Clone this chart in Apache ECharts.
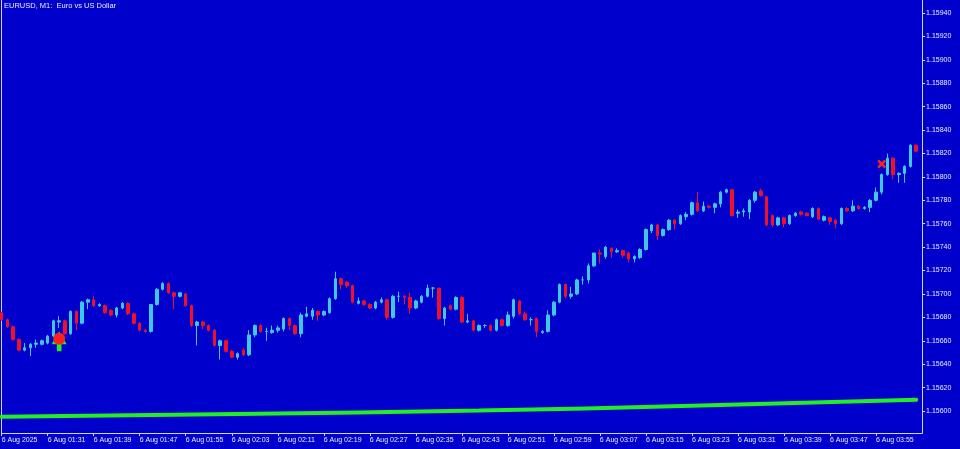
<!DOCTYPE html>
<html><head><meta charset="utf-8">
<script src="https://cdn.jsdelivr.net/npm/echarts@6/dist/echarts.min.js"></script>
<style>html,body{margin:0;padding:0;background:#0000cd;overflow:hidden}#c{width:960px;height:449px}</style>
</head><body><div id="c"></div>
<script>
// ---- data ----
const categories = [
"01:23","01:24","01:25","01:26","01:27","01:28","01:29","01:30","01:31","01:32","01:33","01:34","01:35","01:36","01:37","01:38","01:39","01:40","01:41","01:42","01:43","01:44","01:45","01:46","01:47","01:48","01:49","01:50","01:51","01:52","01:53","01:54","01:55","01:56","01:57","01:58","01:59",
"02:00","02:01","02:02","02:03","02:04","02:05","02:06","02:07","02:08","02:09","02:10","02:11","02:12","02:13","02:14","02:15","02:16","02:17","02:18","02:19","02:20","02:21","02:22","02:23","02:24","02:25","02:26","02:27","02:28","02:29","02:30","02:31","02:32","02:33","02:34","02:35","02:36","02:37","02:38","02:39","02:40","02:41","02:42","02:43","02:44","02:45","02:46","02:47","02:48","02:49","02:50","02:51","02:52","02:53","02:54","02:55","02:56","02:57","02:58","02:59",
"03:00","03:01","03:02","03:03","03:04","03:05","03:06","03:07","03:08","03:09","03:10","03:11","03:12","03:13","03:14","03:15","03:16","03:17","03:18","03:19","03:20","03:21","03:22","03:23","03:24","03:25","03:26","03:27","03:28","03:29","03:30","03:31","03:32","03:33","03:34","03:35","03:36","03:37","03:38","03:39","03:40","03:41","03:42","03:43","03:44","03:45","03:46","03:47","03:48","03:49","03:50","03:51","03:52","03:53","03:54","03:55","03:56","03:57","03:58","03:59",
"04:00","04:01","04:02"];

const opens = [
1.15684,1.15678,1.15672,1.15661,1.15652,1.15654,1.15657,1.15657,1.15658,1.15664,
1.15676,1.15677,1.15666,1.15685,1.15675,1.15693,1.15695,1.15690,1.15690,1.15686,
1.15682,1.15688,1.15692,1.15683,1.15675,1.15669,1.15668,1.15691,1.15704,1.15709,
1.15701,1.15698,1.15700,1.15690,1.15673,1.15676,1.15673,1.15669,1.15656,1.15660,
1.15651,1.15646,1.15652,1.15648,1.15665,1.15673,1.15668,1.15667,1.15669,1.15670,
1.15679,1.15673,1.15666,1.15681,1.15681,1.15685,1.15682,1.15684,1.15696,1.15713,
1.15710,1.15707,1.15692,1.15694,1.15691,1.15688,1.15693,1.15695,1.15680,1.15698,
1.15698,1.15697,1.15688,1.15693,1.15698,1.15705,1.15705,1.15679,1.15690,1.15687,
1.15697,1.15676,1.15677,1.15669,1.15673,1.15673,1.15669,1.15678,1.15673,1.15681,
1.15694,1.15683,1.15678,1.15679,1.15667,1.15668,1.15682,1.15693,1.15708,1.15698,
1.15700,1.15712,1.15712,1.15724,1.15735,1.15732,1.15739,1.15736,1.15737,1.15735,
1.15730,1.15731,1.15738,1.15754,1.15759,1.15750,1.15755,1.15763,1.15760,1.15766,
1.15768,1.15778,1.15771,1.15775,1.15774,1.15777,1.15787,1.15789,1.15769,1.15770,
1.15770,1.15780,1.15788,1.15783,1.15767,1.15759,1.15765,1.15760,1.15767,1.15770,
1.15769,1.15766,1.15773,1.15763,1.15765,1.15763,1.15760,1.15773,1.15771,1.15775,
1.15773,1.15774,1.15780,1.15787,1.15802,1.15816,1.15802,1.15803,1.15809,1.15827];

const highs = [
1.15685,1.15679,1.15673,1.15662,1.15658,1.15658,1.15661,1.15661,1.15665,1.15678,
1.15681,1.15678,1.15686,1.15686,1.15694,1.15696,1.15698,1.15692,1.15691,1.15687,
1.15689,1.15693,1.15693,1.15684,1.15676,1.15670,1.15691,1.15705,1.15710,1.15710,
1.15702,1.15701,1.15701,1.15691,1.15677,1.15677,1.15674,1.15670,1.15661,1.15661,
1.15652,1.15650,1.15654,1.15669,1.15674,1.15674,1.15671,1.15673,1.15673,1.15680,
1.15680,1.15674,1.15684,1.15689,1.15688,1.15686,1.15686,1.15697,1.15719,1.15714,
1.15711,1.15708,1.15697,1.15695,1.15692,1.15694,1.15697,1.15696,1.15699,1.15702,
1.15699,1.15701,1.15695,1.15699,1.15708,1.15706,1.15705,1.15689,1.15691,1.15698,
1.15698,1.15683,1.15678,1.15674,1.15674,1.15674,1.15679,1.15679,1.15685,1.15696,
1.15695,1.15685,1.15680,1.15680,1.15669,1.15686,1.15694,1.15709,1.15709,1.15706,
1.15713,1.15715,1.15726,1.15735,1.15738,1.15741,1.15740,1.15739,1.15738,1.15736,
1.15733,1.15739,1.15756,1.15760,1.15760,1.15756,1.15764,1.15764,1.15768,1.15770,
1.15779,1.15787,1.15779,1.15776,1.15778,1.15788,1.15790,1.15790,1.15772,1.15773,
1.15781,1.15788,1.15790,1.15784,1.15768,1.15766,1.15766,1.15768,1.15770,1.15771,
1.15770,1.15774,1.15774,1.15767,1.15766,1.15764,1.15774,1.15774,1.15780,1.15776,
1.15775,1.15781,1.15791,1.15803,1.15820,1.15817,1.15804,1.15810,1.15828,1.15828];

const lows = [
1.15677,1.15671,1.15660,1.15651,1.15651,1.15647,1.15654,1.15656,1.15657,1.15663,
1.15671,1.15665,1.15665,1.15669,1.15674,1.15687,1.15689,1.15689,1.15683,1.15681,
1.15680,1.15687,1.15682,1.15674,1.15668,1.15667,1.15667,1.15690,1.15703,1.15700,
1.15687,1.15697,1.15689,1.15672,1.15656,1.15670,1.15668,1.15655,1.15644,1.15650,
1.15645,1.15644,1.15647,1.15647,1.15663,1.15667,1.15660,1.15666,1.15667,1.15668,
1.15669,1.15665,1.15663,1.15680,1.15678,1.15677,1.15681,1.15683,1.15695,1.15704,
1.15705,1.15692,1.15691,1.15690,1.15687,1.15687,1.15692,1.15678,1.15679,1.15693,
1.15691,1.15683,1.15687,1.15692,1.15697,1.15697,1.15678,1.15673,1.15686,1.15686,
1.15675,1.15675,1.15668,1.15668,1.15671,1.15668,1.15668,1.15672,1.15672,1.15679,
1.15682,1.15677,1.15673,1.15663,1.15666,1.15667,1.15681,1.15692,1.15696,1.15696,
1.15699,1.15708,1.15709,1.15723,1.15726,1.15730,1.15731,1.15735,1.15731,1.15727,
1.15727,1.15730,1.15737,1.15752,1.15746,1.15749,1.15754,1.15755,1.15759,1.15763,
1.15767,1.15770,1.15770,1.15773,1.15769,1.15774,1.15786,1.15766,1.15765,1.15766,
1.15764,1.15778,1.15783,1.15758,1.15757,1.15758,1.15757,1.15759,1.15766,1.15767,
1.15766,1.15765,1.15763,1.15762,1.15759,1.15756,1.15759,1.15770,1.15770,1.15772,
1.15772,1.15770,1.15779,1.15785,1.15801,1.15798,1.15795,1.15795,1.15808,1.15821];

const closes = [
1.15678,1.15672,1.15661,1.15652,1.15654,1.15657,1.15658,1.15660,1.15664,1.15677,
1.15677,1.15666,1.15685,1.15675,1.15693,1.15695,1.15690,1.15691,1.15684,1.15682,
1.15688,1.15692,1.15683,1.15675,1.15669,1.15668,1.15691,1.15704,1.15709,1.15701,
1.15698,1.15701,1.15690,1.15673,1.15676,1.15673,1.15669,1.15656,1.15660,1.15651,
1.15646,1.15649,1.15648,1.15665,1.15673,1.15668,1.15668,1.15669,1.15671,1.15679,
1.15673,1.15666,1.15682,1.15683,1.15686,1.15682,1.15685,1.15696,1.15713,1.15708,
1.15707,1.15693,1.15694,1.15691,1.15688,1.15693,1.15695,1.15680,1.15698,1.15698,
1.15697,1.15688,1.15694,1.15698,1.15705,1.15705,1.15679,1.15688,1.15687,1.15697,
1.15676,1.15677,1.15669,1.15673,1.15673,1.15669,1.15678,1.15673,1.15682,1.15695,
1.15683,1.15678,1.15678,1.15668,1.15668,1.15682,1.15693,1.15708,1.15698,1.15700,
1.15712,1.15712,1.15724,1.15735,1.15734,1.15740,1.15736,1.15737,1.15733,1.15730,
1.15732,1.15738,1.15755,1.15759,1.15750,1.15755,1.15763,1.15760,1.15767,1.15768,
1.15778,1.15771,1.15775,1.15774,1.15777,1.15787,1.15789,1.15767,1.15770,1.15771,
1.15780,1.15787,1.15784,1.15759,1.15759,1.15765,1.15760,1.15767,1.15769,1.15768,
1.15767,1.15773,1.15764,1.15766,1.15762,1.15760,1.15773,1.15771,1.15775,1.15773,
1.15774,1.15780,1.15787,1.15802,1.15816,1.15802,1.15803,1.15809,1.15827,1.15822];

// slow moving average (green line), read at a few bars
const maIndex  = [0, 41, 83, 120, 159];
const maValues = [1.155951, 1.155974, 1.156004, 1.156045, 1.156097];

// signal markers
const buyIndex = [10];   const buyArrowPrice = [1.156595]; const buyCirclePrice = [1.156618];
const exitIndex = [153]; const exitPrice = [1.15811];

const xTickLabels = ["6 Aug 2025","6 Aug 01:31","6 Aug 01:39","6 Aug 01:47","6 Aug 01:55","6 Aug 02:03","6 Aug 02:11","6 Aug 02:19","6 Aug 02:27","6 Aug 02:35","6 Aug 02:43","6 Aug 02:51","6 Aug 02:59","6 Aug 03:07","6 Aug 03:15","6 Aug 03:23","6 Aug 03:31","6 Aug 03:39","6 Aug 03:47","6 Aug 03:55"];
const yTickValues = [1.1560,1.1562,1.1564,1.1566,1.1568,1.1570,1.1572,1.1574,1.1576,1.1578,1.1580,1.1582,1.1584,1.1586,1.1588,1.1590,1.1592,1.1594];

// ---- chart ----
const FG = '#ececf6', LINE = '#d4d4e6', UP = '#3ec8e8', DOWN = '#f01028', GREEN = '#22ee22';
const FONT = 'Liberation Sans';
const chart = echarts.init(document.getElementById('c'), null, {renderer: 'canvas'});
const candleData = opens.map((o, i) => [o, closes[i], lows[i], highs[i]]);

chart.setOption({
  backgroundColor: '#0000cd',
  animation: false,
  title: {text: 'EURUSD, M1:  Euro vs US Dollar', left: 4, top: 2, padding: 0,
    textStyle: {color: FG, fontSize: 7.5, fontWeight: 'normal', fontFamily: FONT}},
  grid: {left: -1.2, right: 40.9, top: 1, bottom: 16, containLabel: false, outerBoundsMode: 'none'},
  xAxis: {
    type: 'category', data: categories, boundaryGap: true,
    axisLine: {show: false},
    axisTick: {show: true, interval: 7, alignWithLabel: true, length: 3, lineStyle: {color: LINE, width: 1}},
    axisLabel: {interval: 7, align: 'left', margin: 4, color: FG, fontSize: 7, fontFamily: FONT,
      formatter: (v, idx) => xTickLabels[Math.round(idx / 8)] || ''},
    splitLine: {show: false}
  },
  yAxis: {
    type: 'value', position: 'right', offset: 3, scale: true,
    min: 1.155812, max: 1.159503,
    axisLine: {show: false},
    axisTick: {show: true, customValues: yTickValues, length: 3, lineStyle: {color: LINE, width: 1}},
    axisLabel: {customValues: yTickValues, margin: 4, color: FG, fontSize: 7, fontFamily: FONT,
      formatter: v => v.toFixed(5)},
    splitLine: {show: false}
  },
  graphic: [
    {type: 'line', silent: true, shape: {x1: 1.5, y1: 0, x2: 1.5, y2: 433.5}, style: {stroke: LINE, lineWidth: 1}},
    {type: 'line', silent: true, shape: {x1: 1, y1: 433.5, x2: 922.5, y2: 433.5}, style: {stroke: LINE, lineWidth: 1}},
    {type: 'line', silent: true, shape: {x1: 922.5, y1: 0, x2: 922.5, y2: 433.5}, style: {stroke: LINE, lineWidth: 1}}
  ],
  series: [
    {
      type: 'candlestick', data: candleData, barWidth: 3,
      itemStyle: {color: UP, color0: DOWN, borderColor: UP, borderColor0: DOWN, borderWidth: 1, borderColorDoji: UP},
      z: 3
    },
    {
      type: 'line', data: maIndex.map((x, i) => [x, maValues[i]]), smooth: true, showSymbol: false,
      lineStyle: {color: GREEN, width: 4, cap: 'round'}, z: 2
    },
    {
      type: 'scatter', data: buyIndex.map((x, i) => [x, buyArrowPrice[i]]),
      symbol: 'path://M7.5,0 L15,13 L9.8,13 L9.8,20 L5.2,20 L5.2,13 L0,13 Z', symbolSize: [15, 20],
      itemStyle: {color: GREEN, opacity: 1}, z: 5
    },
    {
      type: 'scatter', data: buyIndex.map((x, i) => [x, buyCirclePrice[i]]),
      symbol: 'circle', symbolSize: 12, itemStyle: {color: '#ff2020', opacity: 1}, z: 6
    },
    {
      type: 'scatter', data: exitIndex.map((x, i) => [x, exitPrice[i]]),
      symbol: 'path://M0,2 L2,0 L5,3 L8,0 L10,2 L7,5 L10,8 L8,10 L5,7 L2,10 L0,8 L3,5 Z', symbolSize: 9,
      itemStyle: {color: '#ff2020', opacity: 1}, z: 6
    }
  ]
});
</script></body></html>
